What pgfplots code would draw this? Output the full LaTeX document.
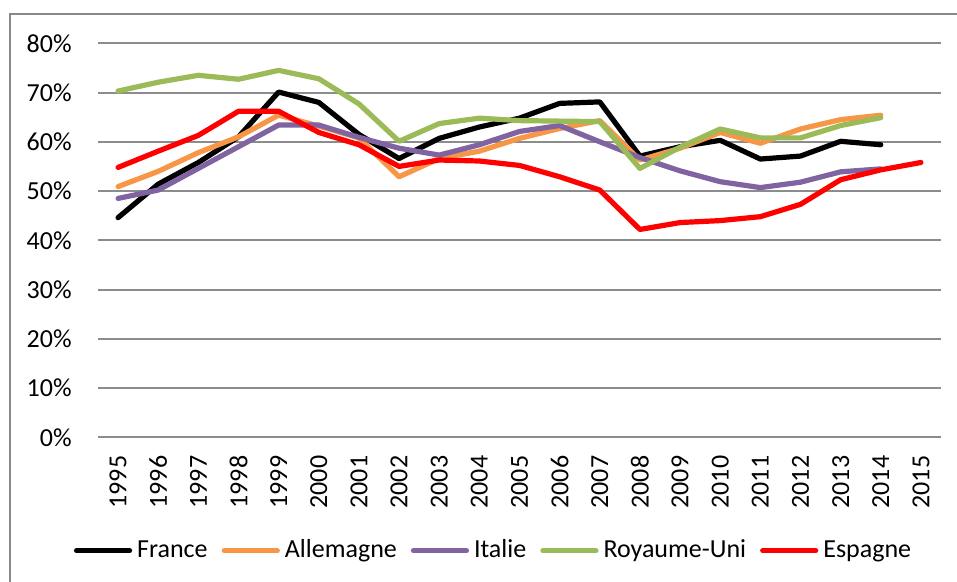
\documentclass[border=0pt]{standalone}
\usepackage{fontspec}
\setmainfont{Carlito}
\usepackage{pgfplots}
\usepackage{pgfplotstable}
\pgfplotsset{compat=1.18}

\definecolor{gridgray}{RGB}{140,140,140}
\definecolor{framegray}{RGB}{137,137,137}
\definecolor{cfrance}{RGB}{0,0,0}
\definecolor{callem}{RGB}{247,150,70}
\definecolor{citalie}{RGB}{128,100,162}
\definecolor{cru}{RGB}{155,187,89}
\definecolor{cesp}{RGB}{255,0,0}

% 0 = 1995 ... 19 = 2014
\pgfplotstableread{
x france allemagne italie ru
0  44.6 50.9 48.5 70.3
1  51.4 54.0 50.2 72.1
2  55.8 57.8 54.6 73.5
3  61.0 61.0 59.0 72.7
4  70.1 65.4 63.4 74.5
5  68.0 63.2 63.4 72.8
6  61.5 60.8 60.9 67.7
7  56.6 52.9 58.7 60.1
8  60.7 56.6 57.3 63.7
9  63.0 58.1 59.4 64.8
10 64.8 60.7 62.1 64.3
11 67.8 62.7 63.3 64.2
12 68.1 64.3 60.0 64.1
13 57.1 56.3 56.8 54.6
14 59.0 58.7 54.1 58.9
15 60.3 61.9 51.9 62.6
16 56.5 59.7 50.7 60.8
17 57.1 62.6 51.8 60.8
18 60.1 64.5 53.9 63.3
19 59.4 65.4 54.5 64.9
}\data
% Espagne goes to 2015
\pgfplotstableread{
x espagne
0  54.8
1  58.1
2  61.3
3  66.2
4  66.2
5  61.9
6  59.4
7  55.0
8  56.3
9  56.1
10 55.2
11 52.9
12 50.2
13 42.2
14 43.6
15 44.0
16 44.8
17 47.3
18 52.3
19 54.3
20 55.8
}\dataesp

\begin{document}
\fontsize{13pt}{15pt}\selectfont
\begin{tikzpicture}
\path[use as bounding box] (-49pt,-72.35pt) rectangle (429.5pt,218.65pt);
\draw[framegray, line width=0.85pt] (-44pt,-80pt) -- (-44pt,211.65pt) -- (440pt,211.65pt);
\begin{axis}[
    scale only axis,
    width=421.5pt,
    height=197pt,
    xmin=-0.5, xmax=20.5,
    ymin=0, ymax=80,
    axis line style={draw=none},
    major tick length=0pt,
    ytick={0,10,...,80},
    yticklabels={0\%,10\%,20\%,30\%,40\%,50\%,60\%,70\%,80\%},
    xtick={0,...,20},
    xticklabels={1995,1996,1997,1998,1999,2000,2001,2002,2003,2004,2005,2006,2007,2008,2009,2010,2011,2012,2013,2014,2015},
    yticklabel style={anchor=east, inner sep=0pt, xshift=-13pt},
    xticklabel style={yshift=-9pt, rotate=90, anchor=east, inner sep=0pt},
    ymajorgrids=true,
    grid style={gridgray, line width=1pt},
    every axis plot/.append style={line width=2.6pt, line cap=round, line join=round},
    legend columns=5,
    legend style={draw=none, at={(0.471,-0.288)}, anchor=center,
        nodes={inner xsep=2.5pt, inner ysep=0pt},
        /tikz/every even column/.append style={column sep=4.5pt}},
    legend image code/.code={\draw[#1] (0pt,0pt) -- (26.5pt,0pt);},
]
\addplot[cfrance] table[x=x,y=france] {\data};
\addlegendentry{France}
\addplot[callem] table[x=x,y=allemagne] {\data};
\addlegendentry{Allemagne}
\addplot[citalie] table[x=x,y=italie] {\data};
\addlegendentry{Italie}
\addplot[cru] table[x=x,y=ru] {\data};
\addlegendentry{Royaume-Uni}
\addplot[cesp] table[x=x,y=espagne] {\dataesp};
\addlegendentry{Espagne}
\end{axis}
\end{tikzpicture}
\end{document}
